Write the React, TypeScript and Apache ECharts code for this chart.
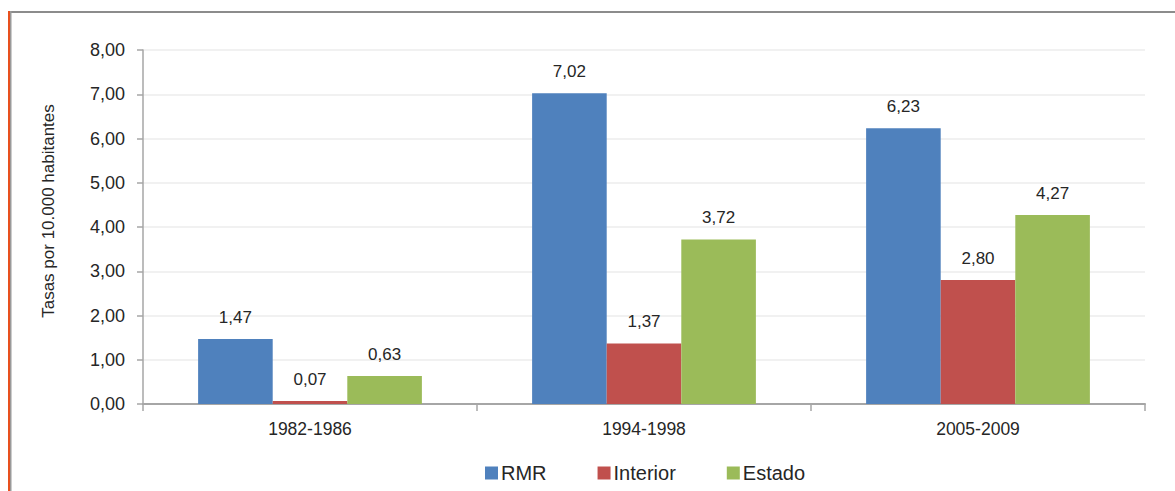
import React, { useEffect, useRef } from "react";
import * as echarts from "echarts";

const categories = ["1982-1986", "1994-1998", "2005-2009"];
const rmr = [1.47, 7.02, 6.23];
const interior = [0.07, 1.37, 2.8];
const estado = [0.63, 3.72, 4.27];
const seriesNames = ["RMR", "Interior", "Estado"];
const colors = ["#4F81BD", "#C0504D", "#9BBB59"];
const yAxisTitle = "Tasas por 10.000 habitantes";

const fmt = (v: number) => v.toFixed(2).replace(".", ",");
const FONT = "Liberation Sans, Arial, sans-serif";
const TXT = "#262626";

export default function App() {
  const ref = useRef<HTMLDivElement>(null);
  useEffect(() => {
    if (!ref.current) return;
    const chart = echarts.init(ref.current, undefined, { renderer: "svg" });
    const data = [rmr, interior, estado];
    chart.setOption({
      animation: false,
      backgroundColor: "#ffffff",
      textStyle: { fontFamily: FONT },
      grid: { left: 143, right: 30, top: 50, bottom: 87, containLabel: false },
      legend: {
        data: seriesNames,
        bottom: 3,
        left: 480,
        itemWidth: 13,
        itemHeight: 13,
        itemGap: 51,
        icon: "rect",
        textStyle: { fontSize: 20, color: TXT, fontFamily: FONT, padding: [0, 0, 0, -2] },
      },
      xAxis: {
        type: "category",
        data: categories,
        axisLine: { lineStyle: { color: "#a6a6a6", width: 2 } },
        axisTick: { show: true, length: 7, alignWithLabel: false, lineStyle: { color: "#a6a6a6", width: 1.5 } },
        axisLabel: { fontSize: 17.5, color: TXT, margin: 16, fontFamily: FONT },
      },
      yAxis: {
        type: "value",
        min: 0,
        max: 8,
        interval: 1,
        axisLine: { show: true, lineStyle: { color: "#a6a6a6", width: 1.5 } },
        axisTick: { show: true, length: 6, lineStyle: { color: "#a6a6a6", width: 1.5 } },
        axisLabel: { fontSize: 18, color: TXT, margin: 18, formatter: (v: number) => fmt(v), fontFamily: FONT },
        splitLine: { show: true, lineStyle: { color: "#ececec", width: 1.5 } },
      },
      series: seriesNames.map((name, i) => ({
        name,
        type: "bar",
        data: data[i],
        barGap: "0%",
        barCategoryGap: "33%",
        itemStyle: { color: colors[i] },
        label: {
          show: true,
          position: "top",
          distance: 13,
          fontSize: 17,
          color: TXT,
          fontFamily: FONT,
          formatter: (p: any) => fmt(p.value),
        },
      })),
      graphic: [
        { type: "rect", shape: { x: 8, y: 11, width: 1167, height: 2 }, style: { fill: "#8c8c8c" }, silent: true },
        { type: "rect", shape: { x: 8, y: 11, width: 2, height: 480 }, style: { fill: "#E8501E" }, silent: true },
        { type: "rect", shape: { x: 10, y: 11, width: 1.5, height: 480 }, style: { fill: "#9a9a9a" }, silent: true },
        {
          type: "text",
          x: 48,
          y: 211,
          rotation: Math.PI / 2,
          style: {
            text: yAxisTitle,
            fontSize: 17,
            fontFamily: FONT,
            fill: TXT,
            align: "center",
            verticalAlign: "middle",
          },
          silent: true,
        },
      ],
    });
    return () => chart.dispose();
  }, []);
  return (
    <div
      ref={ref}
      style={{ position: "absolute", left: 0, top: 0, width: 1175, height: 491, background: "#fff" }}
    />
  );
}
